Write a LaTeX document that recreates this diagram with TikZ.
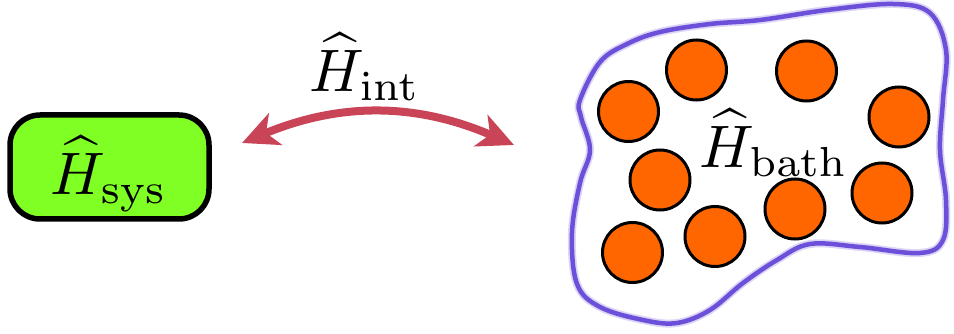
\documentclass[tikz,border=0pt]{standalone}
\usepackage{graphicx}
\usetikzlibrary{arrows.meta}
\definecolor{sysgreen}{RGB}{128,255,36}
\definecolor{arrred}{RGB}{202,68,88}
\definecolor{bathpurple}{RGB}{108,80,218}
\definecolor{dotorange}{RGB}{255,102,0}
\newcommand{\bigmath}[1]{\scalebox{6}{$#1$}}
\tikzset{
  bigtext/.style={inner sep=0pt},
  sysbox/.style={draw=black, line width=5.5pt, fill=sysgreen, rounded corners=30pt,
    minimum width=199pt, minimum height=104pt, inner sep=0pt},
  dot/.style={circle, draw=black, line width=3pt, fill=dotorange, minimum size=60pt, inner sep=0pt},
  coupling/.style={arrred, line width=8pt,
    {Stealth[length=36pt,width=34pt,inset=10pt]}-{Stealth[length=36pt,width=34pt,inset=10pt]}},
}
\begin{document}
\begin{tikzpicture}[x=1pt,y=-1pt]
\useasboundingbox (0,0) rectangle (954,334);
% system
\node[sysbox] (sys) at (109.5,167) {};
\node[bigtext, anchor=base] (syslabel) at (109,195) {\bigmath{\widehat{H}_{\mathrm{sys}}}};
% bath boundary
\def\blob{plot[smooth cycle, tension=0.6] coordinates {
 (580,100) (600,62) (627,44) (660,32) (710,24) (760,20) (827,10) (893,4) (930,13)
 (946,50) (943,100) (940,150) (946,200) (943,240) (920,253) (860,247) (810,244)
 (777,260) (743,283) (710,310) (677,323) (643,320) (600,307) (577,284) (572,233)
 (580,183) (590,150) (581,117)}}
\draw[bathpurple!40, line width=8pt, opacity=0.6] \blob;
\draw[bathpurple, line width=4.5pt] \blob;
% bath particles
\node[dot] (p1) at (696.5,70) {};
\node[dot] (p2) at (806.5,71) {};
\node[dot] (p3) at (628.5,111.5) {};
\node[dot] (p4) at (899,117) {};
\node[dot] (p5) at (660,180) {};
\node[dot] (p6) at (882,193) {};
\node[dot] (p7) at (795,209) {};
\node[dot] (p8) at (715,236.5) {};
\node[dot] (p9) at (632.5,252.5) {};
\node[bigtext, anchor=base] (bathlabel) at (774,168) {\bigmath{\widehat{H}_{\mathrm{bath}}}};
% interaction
\coordinate (aL) at (242,143);
\coordinate (aR) at (514,145);
\draw[coupling] (aL) to[bend left=23] (aR);
\node[bigtext, anchor=base] (intlabel) at (365,92) {\bigmath{\widehat{H}_{\mathrm{int}}}};
\end{tikzpicture}
\end{document}
